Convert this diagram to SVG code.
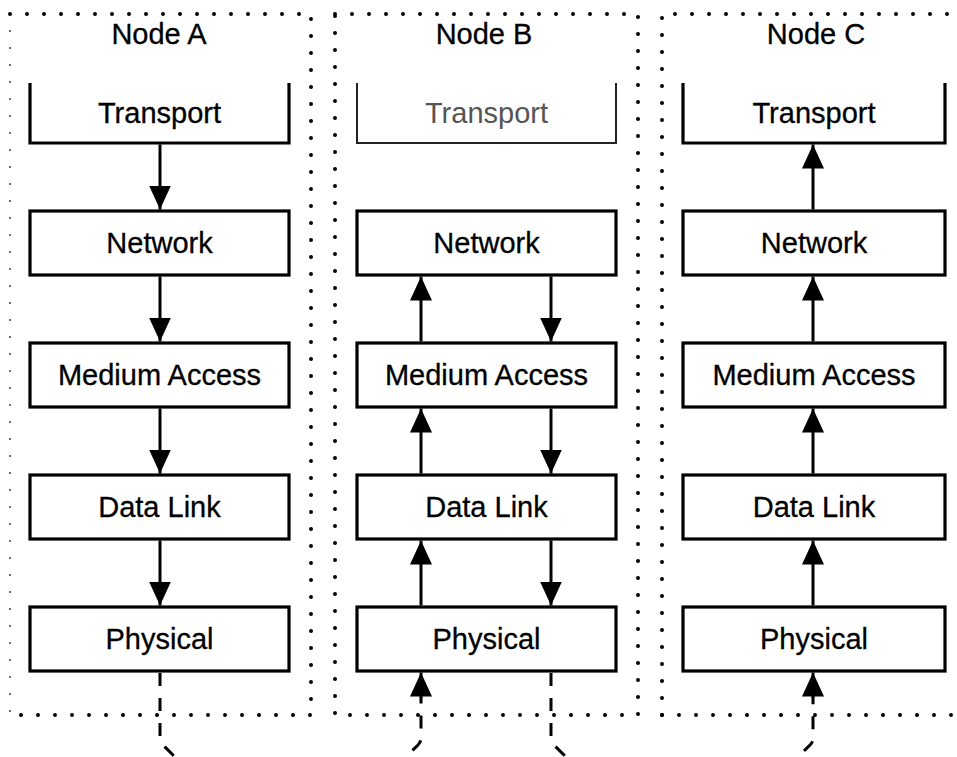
<svg xmlns="http://www.w3.org/2000/svg" width="957" height="757" viewBox="0 0 957 757">
<style>
.dot{fill:none;stroke:#000;stroke-width:4;stroke-linecap:round;stroke-dasharray:0 17}
.faint{stroke-width:2;stroke:#444}
.box{fill:#fff;stroke:#000;stroke-width:3.2}
.br{fill:none;stroke:#000;stroke-width:3.2}
.brl{fill:none;stroke:#222;stroke-width:2}
.lbl{font-family:"Liberation Sans",Arial,sans-serif;font-size:29px;text-anchor:middle;fill:#000;stroke:#000;stroke-width:0.3}
.ttl{font-family:"Liberation Sans",Arial,sans-serif;font-size:29px;text-anchor:middle;fill:#000;stroke:#000;stroke-width:0.3}
.lt{fill:#555;stroke:none}
.ar{fill:none;stroke:#000;stroke-width:3;marker-end:url(#ah)}
.da{fill:none;stroke:#000;stroke-width:3;stroke-dasharray:13 12}
</style>
<defs>
<marker id="ah" markerUnits="userSpaceOnUse" viewBox="0 0 24 22" refX="24" refY="11" markerWidth="24" markerHeight="22" orient="auto">
<path d="M0,0 L24,11 L0,22 Z" fill="#000"/>
</marker>
</defs>

<g id="containers">
<path class="dot faint" d="M10,14 V715"/>
<path class="dot" d="M10,14 H311 V715 H10"/>
<path class="dot" d="M335,14 H638 V715 H335 V14"/>
<path class="dot" d="M662,715 V14 H980"/>
<path class="dot" d="M662,715 H980"/>
</g>

<g id="nodeA">
<text class="ttl" x="159" y="44">Node A</text>
<g id="A-transport"><path class="br" d="M30,83 V143 H289 V83"/><text class="lbl" x="159.5" y="123">Transport</text></g>
<g id="A-network"><rect class="box" x="30" y="211" width="259" height="64"/><text class="lbl" x="159.5" y="253">Network</text></g>
<g id="A-mac"><rect class="box" x="30" y="343" width="259" height="64"/><text class="lbl" x="159.5" y="385">Medium Access</text></g>
<g id="A-datalink"><rect class="box" x="30" y="475" width="259" height="64"/><text class="lbl" x="159.5" y="517">Data Link</text></g>
<g id="A-physical"><rect class="box" x="30" y="607" width="259" height="64"/><text class="lbl" x="159.5" y="649">Physical</text></g>
</g>

<g id="nodeB">
<text class="ttl" x="484" y="44">Node B</text>
<g id="B-transport"><path class="brl" d="M357,83 V143 H616 V83"/><text class="lbl lt" x="486.5" y="123">Transport</text></g>
<g id="B-network"><rect class="box" x="357" y="211" width="259" height="64"/><text class="lbl" x="486.5" y="253">Network</text></g>
<g id="B-mac"><rect class="box" x="357" y="343" width="259" height="64"/><text class="lbl" x="486.5" y="385">Medium Access</text></g>
<g id="B-datalink"><rect class="box" x="357" y="475" width="259" height="64"/><text class="lbl" x="486.5" y="517">Data Link</text></g>
<g id="B-physical"><rect class="box" x="357" y="607" width="259" height="64"/><text class="lbl" x="486.5" y="649">Physical</text></g>
</g>

<g id="nodeC">
<text class="ttl" x="816" y="44">Node C</text>
<g id="C-transport"><path class="br" d="M683,83 V143 H945 V83"/><text class="lbl" x="814" y="123">Transport</text></g>
<g id="C-network"><rect class="box" x="683" y="211" width="262" height="64"/><text class="lbl" x="814" y="253">Network</text></g>
<g id="C-mac"><rect class="box" x="683" y="343" width="262" height="64"/><text class="lbl" x="814" y="385">Medium Access</text></g>
<g id="C-datalink"><rect class="box" x="683" y="475" width="262" height="64"/><text class="lbl" x="814" y="517">Data Link</text></g>
<g id="C-physical"><rect class="box" x="683" y="607" width="262" height="64"/><text class="lbl" x="814" y="649">Physical</text></g>
</g>

<g id="connectors">
<path class="ar" d="M160,144.5 V209.5"/>
<path class="ar" d="M160,276.5 V341.5"/>
<path class="ar" d="M160,408.5 V473.5"/>
<path class="ar" d="M160,540.5 V605.5"/>

<path class="ar" d="M421,341.5 V276.5"/>
<path class="ar" d="M421,473.5 V408.5"/>
<path class="ar" d="M421,605.5 V540.5"/>
<path class="ar" d="M551,276.5 V341.5"/>
<path class="ar" d="M551,408.5 V473.5"/>
<path class="ar" d="M551,540.5 V605.5"/>

<path class="ar" d="M813,209.5 V144.5"/>
<path class="ar" d="M813,341.5 V276.5"/>
<path class="ar" d="M813,473.5 V408.5"/>
<path class="ar" d="M813,605.5 V540.5"/>

<path class="da" d="M160,673 V738 Q160,742 163,745 L290,872 L418,745 Q421,742 421,738 V697"/>
<path class="ar" d="M421,698 V672.5"/>
<path class="da" d="M551,673 V738 Q551,742 554,745 L682,872 L810,745 Q813,742 813,738 V697"/>
<path class="ar" d="M813,698 V672.5"/>
</g>
</svg>
